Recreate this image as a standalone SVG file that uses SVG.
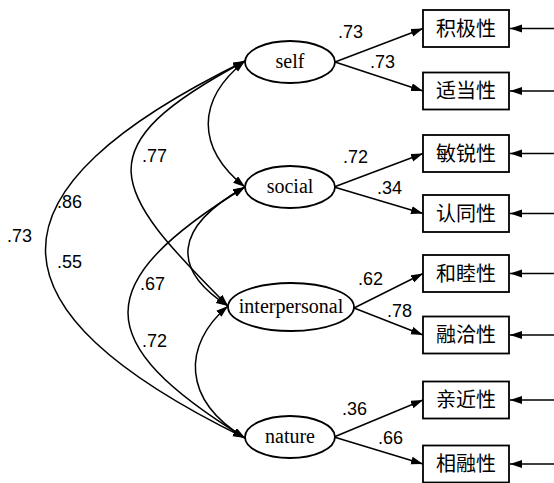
<svg xmlns="http://www.w3.org/2000/svg" width="554" height="483" viewBox="0 0 554 483">
<style>
.ell{fill:#fff;stroke:#000;stroke-width:1.8}
.box{fill:#fff;stroke:#000;stroke-width:1.8}
.lt{font-family:"Liberation Serif",serif;font-size:20px;text-anchor:middle;fill:#000}
.bt{font-family:"Noto Sans CJK SC","Noto Sans CJK JP",sans-serif;font-size:20px;text-anchor:middle;fill:#000}
.num{font-family:"Liberation Sans",sans-serif;font-size:18px;fill:#000}
.ln{fill:none;stroke:#000;stroke-width:1.5}
.cov{fill:none;stroke:#000;stroke-width:1.5;marker-start:url(#ah);marker-end:url(#ah)}
.one{fill:none;stroke:#000;stroke-width:1.5;marker-end:url(#ah)}
</style>
<defs>
<marker id="ah" markerUnits="userSpaceOnUse" markerWidth="13" markerHeight="9" refX="12" refY="4" orient="auto-start-reverse">
<path d="M0,0 L12,4 L0,8 z" fill="#000"/>
</marker>
</defs>
<rect width="554" height="483" fill="#fff"/>
<g id="connectors">
<path class="cov" d="M245,61 C196,100 196,148 245,187"/>
<path class="cov" d="M245,187 C172,228 172,270 228,306"/>
<path class="cov" d="M228,306 C182,345 182,400 245,438"/>
<path class="cov" d="M245,61 C82,148 110,188 228,306"/>
<path class="cov" d="M245,187 C89,283 89,342 245,438"/>
<path class="cov" d="M245,61 C-21,191 -21,308 245,438"/>
<path class="one" d="M335,62 L423,28.5"/>
<path class="one" d="M335,62 L423,91"/>
<path class="one" d="M334,187 L423,153.5"/>
<path class="one" d="M334,187 L423,213.5"/>
<path class="one" d="M354,308 L423,273.5"/>
<path class="one" d="M354,308 L423,335"/>
<path class="one" d="M334,437 L423,400"/>
<path class="one" d="M334,437 L423,464"/>
<path class="one" d="M554,28.5 L510,28.5"/>
<path class="one" d="M554,91 L510,91"/>
<path class="one" d="M554,153.5 L510,153.5"/>
<path class="one" d="M554,213.5 L510,213.5"/>
<path class="one" d="M554,273.5 L510,273.5"/>
<path class="one" d="M554,335 L510,335"/>
<path class="one" d="M554,400 L510,400"/>
<path class="one" d="M554,464 L510,464"/>
<text class="num" x="338" y="38">.73</text>
<text class="num" x="370" y="68">.73</text>
<text class="num" x="343" y="163">.72</text>
<text class="num" x="377" y="194">.34</text>
<text class="num" x="358" y="285">.62</text>
<text class="num" x="387" y="317">.78</text>
<text class="num" x="342" y="415">.36</text>
<text class="num" x="378" y="444">.66</text>
<text class="num" x="142" y="162">.77</text>
<text class="num" x="57" y="208">.86</text>
<text class="num" x="7" y="242">.73</text>
<text class="num" x="57" y="268">.55</text>
<text class="num" x="140" y="290">.67</text>
<text class="num" x="142" y="347">.72</text>
</g>
<g id="self"><ellipse class="ell" cx="290" cy="62" rx="45" ry="21"/><text class="lt" x="290" y="68">self</text></g>
<g id="social"><ellipse class="ell" cx="290" cy="187" rx="45" ry="21"/><text class="lt" x="290" y="193">social</text></g>
<g id="interpersonal"><ellipse class="ell" cx="291" cy="307" rx="63" ry="24"/><text class="lt" x="291" y="313">interpersonal</text></g>
<g id="nature"><ellipse class="ell" cx="290" cy="437" rx="45" ry="21"/><text class="lt" x="290" y="443">nature</text></g>
<g id="b1"><rect class="box" x="423" y="10" width="86" height="37"/><text class="bt" x="466" y="35.5">积极性</text></g>
<g id="b2"><rect class="box" x="423" y="72.5" width="86" height="37"/><text class="bt" x="466" y="98">适当性</text></g>
<g id="b3"><rect class="box" x="423" y="135" width="86" height="37"/><text class="bt" x="466" y="160.5">敏锐性</text></g>
<g id="b4"><rect class="box" x="423" y="195" width="86" height="37"/><text class="bt" x="466" y="220.5">认同性</text></g>
<g id="b5"><rect class="box" x="423" y="255" width="86" height="37"/><text class="bt" x="466" y="280.5">和睦性</text></g>
<g id="b6"><rect class="box" x="423" y="316.5" width="86" height="37"/><text class="bt" x="466" y="342">融洽性</text></g>
<g id="b7"><rect class="box" x="423" y="381.5" width="86" height="37"/><text class="bt" x="466" y="407">亲近性</text></g>
<g id="b8"><rect class="box" x="423" y="445.5" width="86" height="37"/><text class="bt" x="466" y="471">相融性</text></g>
</svg>
